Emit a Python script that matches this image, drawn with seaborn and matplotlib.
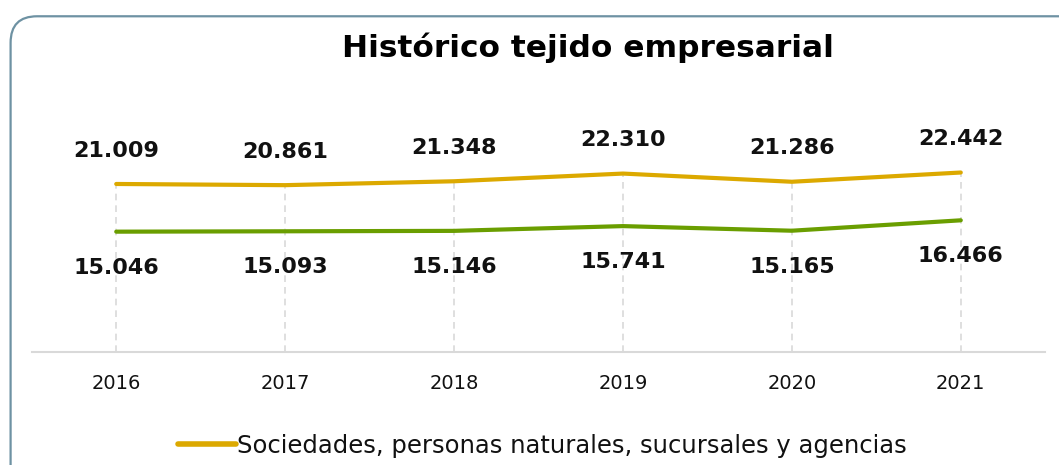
import pandas as pd
import seaborn as sns
import matplotlib.pyplot as plt
from matplotlib.patches import FancyBboxPatch

# ========= data =========
years = ["2016", "2017", "2018", "2019", "2020", "2021"]
sociedades = [21009, 20861, 21348, 22310, 21286, 22442]
establecimientos = [15046, 15093, 15146, 15741, 15165, 16466]
serie_amarilla = "Sociedades, personas naturales, sucursales y agencias"
serie_verde = "Establecimientos de comercio"
titulo = "Histórico tejido empresarial"

amarillo = "#DCA900"
verde = "#6A9E00"

df = pd.DataFrame({"year": years * 2,
                   "value": sociedades + establecimientos,
                   "serie": [serie_amarilla] * len(years) + [serie_verde] * len(years)})

sns.set_style("white")
plt.rcParams["font.family"] = ["DejaVu Sans"]

fig = plt.figure(figsize=(10.59, 4.65), dpi=100)
ax = fig.add_axes([0.030, 0.243, 0.957, 0.688])

# marco redondeado
marco = FancyBboxPatch((0.010, -0.2), 1.1, 1.165, transform=fig.transFigure,
                       boxstyle="round,pad=0,rounding_size=0.025",
                       fc="white", ec="#6E92A3", lw=1.6, zorder=-5,
                       mutation_aspect=10.59 / 4.65)
fig.patches.append(marco)

# lineas verticales punteadas
x_pos = range(len(years))
ax.vlines(x_pos, 0, sociedades, colors="#D9D9D9", linestyles=(0, (4, 3)), lw=1.2, zorder=1)

sns.lineplot(data=df, x="year", y="value", hue="serie",
             palette={serie_amarilla: amarillo, serie_verde: verde},
             lw=3.0, sort=False, ax=ax, legend=False, zorder=3,
             solid_capstyle="round")

# etiquetas de datos
for i, v in enumerate(sociedades):
    ax.annotate(f"{v/1000:.3f}", (i, v), xytext=(0, 24), textcoords="offset points",
                ha="center", va="center", fontsize=16, fontweight="bold", color="#111111")
for i, v in enumerate(establecimientos):
    ax.annotate(f"{v/1000:.3f}", (i, v), xytext=(0, -26), textcoords="offset points",
                ha="center", va="center", fontsize=16, fontweight="bold", color="#111111")

ax.set_xlim(-0.5, len(years) - 0.5)
ax.set_ylim(0, 40000)
ax.set_yticks([])
ax.set_xlabel("")
ax.set_ylabel("")
ax.tick_params(axis="x", length=0, pad=16, labelsize=14, labelcolor="#111111")
for s in ["top", "left", "right"]:
    ax.spines[s].set_visible(False)
ax.spines["bottom"].set_color("#D9D9D9")
ax.spines["bottom"].set_linewidth(1.5)
ax.patch.set_alpha(0)

fig.text(0.555, 0.898, titulo, ha="center", va="center",
         fontsize=22.5, fontweight="bold", color="#000000")

handle = plt.Line2D([], [], color=amarillo, lw=4, solid_capstyle="round")
fig.legend([handle], [serie_amarilla], loc="center", bbox_to_anchor=(0.512, 0.041),
           frameon=False, fontsize=17.5, handlelength=2.4, handletextpad=0.05,
           labelcolor="#111111")

fig.savefig("out.png", dpi=100)
